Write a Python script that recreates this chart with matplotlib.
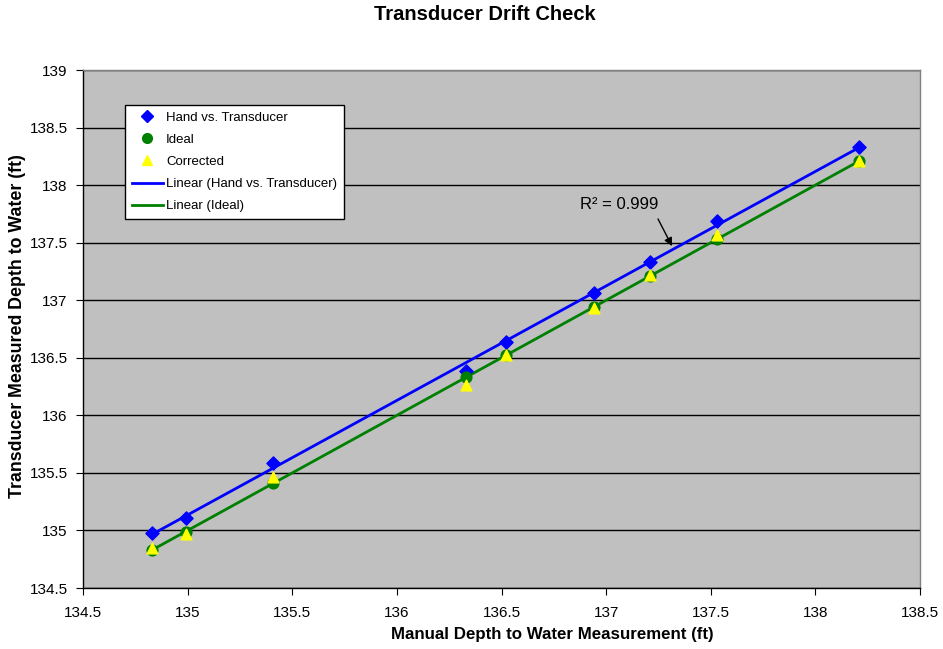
import numpy as np
import matplotlib
matplotlib.use("Agg")
import matplotlib.pyplot as plt
from matplotlib.lines import Line2D

plt.rcParams['font.family'] = ['Liberation Sans', 'DejaVu Sans']

manual = [134.83, 134.99, 135.41, 136.33, 136.52, 136.94, 137.21, 137.53, 138.21]
hand_vs_transducer = [134.98, 135.11, 135.59, 136.385, 136.64, 137.06, 137.33, 137.69, 138.33]
ideal = [134.83, 134.99, 135.41, 136.33, 136.52, 136.94, 137.21, 137.53, 138.21]
corrected = [134.85, 134.97, 135.46, 136.26, 136.52, 136.93, 137.22, 137.57, 138.21]
x_ticks = [134.5, 135, 135.5, 136, 136.5, 137, 137.5, 138, 138.5]
y_ticks = [134.5, 135, 135.5, 136, 136.5, 137, 137.5, 138, 138.5, 139]

W, H = 943, 649
fig = plt.figure(figsize=(W/100, H/100), dpi=100)
ax = fig.add_axes([83/W, 1-588/H, (920-83)/W, (588-70)/H])
ax.set_facecolor('#C0C0C0')

x = np.array(manual)
# trendlines
p1 = np.polyfit(x, hand_vs_transducer, 1)
p2 = np.polyfit(x, ideal, 1)
xs = np.array([x.min(), x.max()])
ax.plot(xs, np.polyval(p1, xs), color='#0000FF', lw=2, zorder=3)
ax.plot(xs, np.polyval(p2, xs), color='#008000', lw=2, zorder=3)

ax.scatter(x, hand_vs_transducer, marker='D', s=45, color='#0000FF', zorder=4)
ax.scatter(x, ideal, marker='o', s=60, color='#008000', zorder=4)
ax.scatter(x, corrected, marker='^', s=60, color='#FFFF00', zorder=5)

ax.set_xlim(134.5, 138.5)
ax.set_ylim(134.5, 139)
ax.set_xticks(x_ticks)
ax.set_yticks(y_ticks)
ax.set_xticklabels([f"{t:g}" for t in x_ticks])
ax.set_yticklabels([f"{t:g}" for t in y_ticks])
ax.grid(axis='y', color='#000000', lw=1, zorder=1)
ax.set_axisbelow(True)
ax.tick_params(direction='out', length=5, labelsize=11, colors='black', pad=6)
ax.tick_params(axis='x', pad=8)
for s in ['left', 'bottom']:
    ax.spines[s].set_color('black')
    ax.spines[s].set_linewidth(1)
for s in ['right', 'top']:
    ax.spines[s].set_color('#808080')
    ax.spines[s].set_linewidth(1)

fig.text(552/W, 1-635/H, 'Manual Depth to Water Measurement (ft)', fontsize=12.2,
         fontweight='bold', ha='center', va='center')
fig.text(18/W, 1-326/H, 'Transducer Measured Depth to Water (ft)', fontsize=12.8,
         fontweight='bold', ha='center', va='center', rotation=90)
fig.text(485/W, 1-15/H, 'Transducer Drift Check', fontsize=14.5, fontweight='bold',
         ha='center', va='center')

ax.text(136.875, 137.828, 'R² = 0.999', fontsize=12, ha='left', va='center')
ax.annotate('', xy=(137.315, 137.47), xytext=(137.248, 137.706),
            arrowprops=dict(arrowstyle='-|>', color='black', lw=1,
                            shrinkA=0, shrinkB=0, mutation_scale=12))

handles = [
    Line2D([], [], marker='D', color='#0000FF', ls='none', ms=6),
    Line2D([], [], marker='o', color='#008000', ls='none', ms=7),
    Line2D([], [], marker='^', color='#FFFF00', ls='none', ms=7),
    Line2D([], [], color='#0000FF', lw=2),
    Line2D([], [], color='#008000', lw=2),
]
labels = ['Hand vs. Transducer', 'Ideal', 'Corrected',
          'Linear (Hand vs. Transducer)', 'Linear (Ideal)']
leg = ax.legend(handles, labels, loc='upper left', bbox_to_anchor=(42/837, 1-35/518),
                fontsize=9.5, frameon=True, fancybox=False, edgecolor='black',
                facecolor='white', framealpha=1, handlelength=2.4, borderpad=0.5,
                labelspacing=0.75, handletextpad=0.2, borderaxespad=0)
leg.get_frame().set_linewidth(1)

fig.savefig('out.png', dpi=100)
